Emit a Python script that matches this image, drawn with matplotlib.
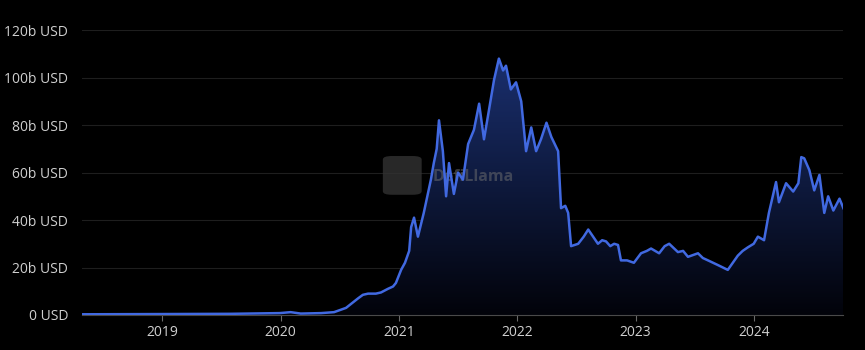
import numpy as np
import pandas as pd
import matplotlib
matplotlib.use('Agg')
import matplotlib.pyplot as plt
import matplotlib.dates as mdates
from matplotlib.patches import FancyBboxPatch, Polygon

# TVL (billions USD)
dates = ['2018-04-28', '2019-01-01', '2019-07-31', '2019-12-29', '2020-02-01', '2020-03-03',
         '2020-05-05', '2020-06-14', '2020-07-21', '2020-08-27', '2020-09-11', '2020-09-27',
         '2020-10-21', '2020-11-06', '2020-11-27', '2020-12-13', '2020-12-22', '2021-01-07',
         '2021-01-19', '2021-02-01', '2021-02-07', '2021-02-16', '2021-02-28', '2021-03-18',
         '2021-04-09', '2021-04-18', '2021-04-27', '2021-05-04', '2021-05-16', '2021-05-26',
         '2021-06-04', '2021-06-19', '2021-07-02', '2021-07-17', '2021-08-02', '2021-08-20',
         '2021-09-05', '2021-09-20', '2021-10-05', '2021-10-21', '2021-11-05', '2021-11-18',
         '2021-11-27', '2021-12-12', '2021-12-28', '2022-01-13', '2022-01-28', '2022-02-13',
         '2022-02-28', '2022-03-15', '2022-04-01', '2022-04-16', '2022-05-07', '2022-05-16',
         '2022-05-29', '2022-06-07', '2022-06-16', '2022-07-08', '2022-07-25', '2022-08-08',
         '2022-08-23', '2022-09-07', '2022-09-20', '2022-10-02', '2022-10-15', '2022-10-27',
         '2022-11-08', '2022-11-17', '2022-12-06', '2022-12-27', '2023-01-18', '2023-02-05',
         '2023-02-18', '2023-03-15', '2023-04-01', '2023-04-15', '2023-05-12', '2023-05-28',
         '2023-06-12', '2023-07-13', '2023-07-28', '2023-08-13', '2023-09-13', '2023-10-13',
         '2023-11-13', '2023-11-28', '2023-12-14', '2024-01-01', '2024-01-14', '2024-02-02',
         '2024-02-17', '2024-03-10', '2024-03-19', '2024-04-10', '2024-05-02', '2024-05-18',
         '2024-05-27', '2024-06-05', '2024-06-21', '2024-07-06', '2024-07-22', '2024-08-06',
         '2024-08-18', '2024-09-03', '2024-09-22', '2024-10-04']
tvl = [0.3, 0.4, 0.5, 0.8, 1.2, 0.6,
       0.8, 1.2, 3, 7, 8.5, 9,
       9, 9.5, 11, 12, 13.5, 19,
       22, 27, 37, 41, 33, 43,
       57, 64, 70, 82, 69, 50,
       64, 51, 60, 57, 72, 78,
       89, 74, 86, 99, 108, 103,
       105, 95, 98, 90, 69, 79,
       69, 74, 81, 75, 69, 45,
       46, 43, 29, 30, 33, 36,
       33, 30, 31.5, 31, 29, 30,
       29.5, 23, 23, 22, 26, 27,
       28, 26, 29, 30, 26.5, 27,
       24.5, 26, 24, 23, 21, 19,
       25, 27, 28.5, 30, 33, 31.5,
       43, 56, 47.5, 55.5, 52, 55.5,
       66.5, 66, 61, 52.5, 59, 43,
       50, 44, 49, 45]
year_ticks = ['2019', '2020', '2021', '2022', '2023', '2024']
y_ticks = [0, 20, 40, 60, 80, 100, 120]

plt.rcParams['font.family'] = ['Open Sans', 'DejaVu Sans']

x = mdates.date2num(pd.to_datetime(dates))
y = np.array(tvl)

fig = plt.figure(figsize=(8.65, 3.5), dpi=100, facecolor='black')
ax = fig.add_axes([0.095, 0.1, 0.88, 0.814], facecolor='black')

# gradient fill under the line
grad = np.linspace(0, 1, 256).reshape(-1, 1)
cmap = matplotlib.colors.LinearSegmentedColormap.from_list('g', ['#02030a', '#1a2f6e'])
im = ax.imshow(grad, cmap=cmap, aspect='auto', origin='lower',
               extent=[x[0], x[-1], 0, y.max()], zorder=2)
poly = Polygon(np.column_stack([np.r_[x[0], x, x[-1]], np.r_[0, y, 0]]),
               closed=True, facecolor='none', edgecolor='none')
ax.add_patch(poly)
im.set_clip_path(poly)

ax.plot(x, y, color='#4169e1', lw=1.8, zorder=3)

# watermark
ax.text(0.461, 0.484, 'DefiLlama', transform=ax.transAxes, color='#707070', alpha=0.5,
        fontsize=11.5, fontweight='bold', ha='left', va='center', zorder=2.5)
logo = FancyBboxPatch((0.398, 0.425), 0.045, 0.13, boxstyle='round,pad=0.003,rounding_size=0.012',
                      transform=ax.transAxes, facecolor='#333333', edgecolor='none', alpha=0.8, zorder=2.5)
ax.add_patch(logo)

ax.set_xlim(x[0], x[-1])
ax.set_ylim(0, 120)
ax.set_yticks(y_ticks)
ax.set_yticklabels([f'{v}b USD' if v else '0 USD' for v in y_ticks])
ax.set_xticks(mdates.date2num(pd.to_datetime([f'{yr}-01-01' for yr in year_ticks])))
ax.set_xticklabels(year_ticks)

ax.grid(axis='y', color='#1e1e1e', lw=0.8, zorder=0)
for s in ['top', 'right', 'left']:
    ax.spines[s].set_visible(False)
ax.spines['bottom'].set_color('#4a4a4a')
ax.tick_params(axis='y', length=0, colors='#cfcfcf', labelsize=10, pad=10)
ax.tick_params(axis='x', length=4, color='#6a6a6a', colors='#cfcfcf', labelsize=10, pad=3)

fig.savefig('out.png', dpi=100, facecolor='black')
